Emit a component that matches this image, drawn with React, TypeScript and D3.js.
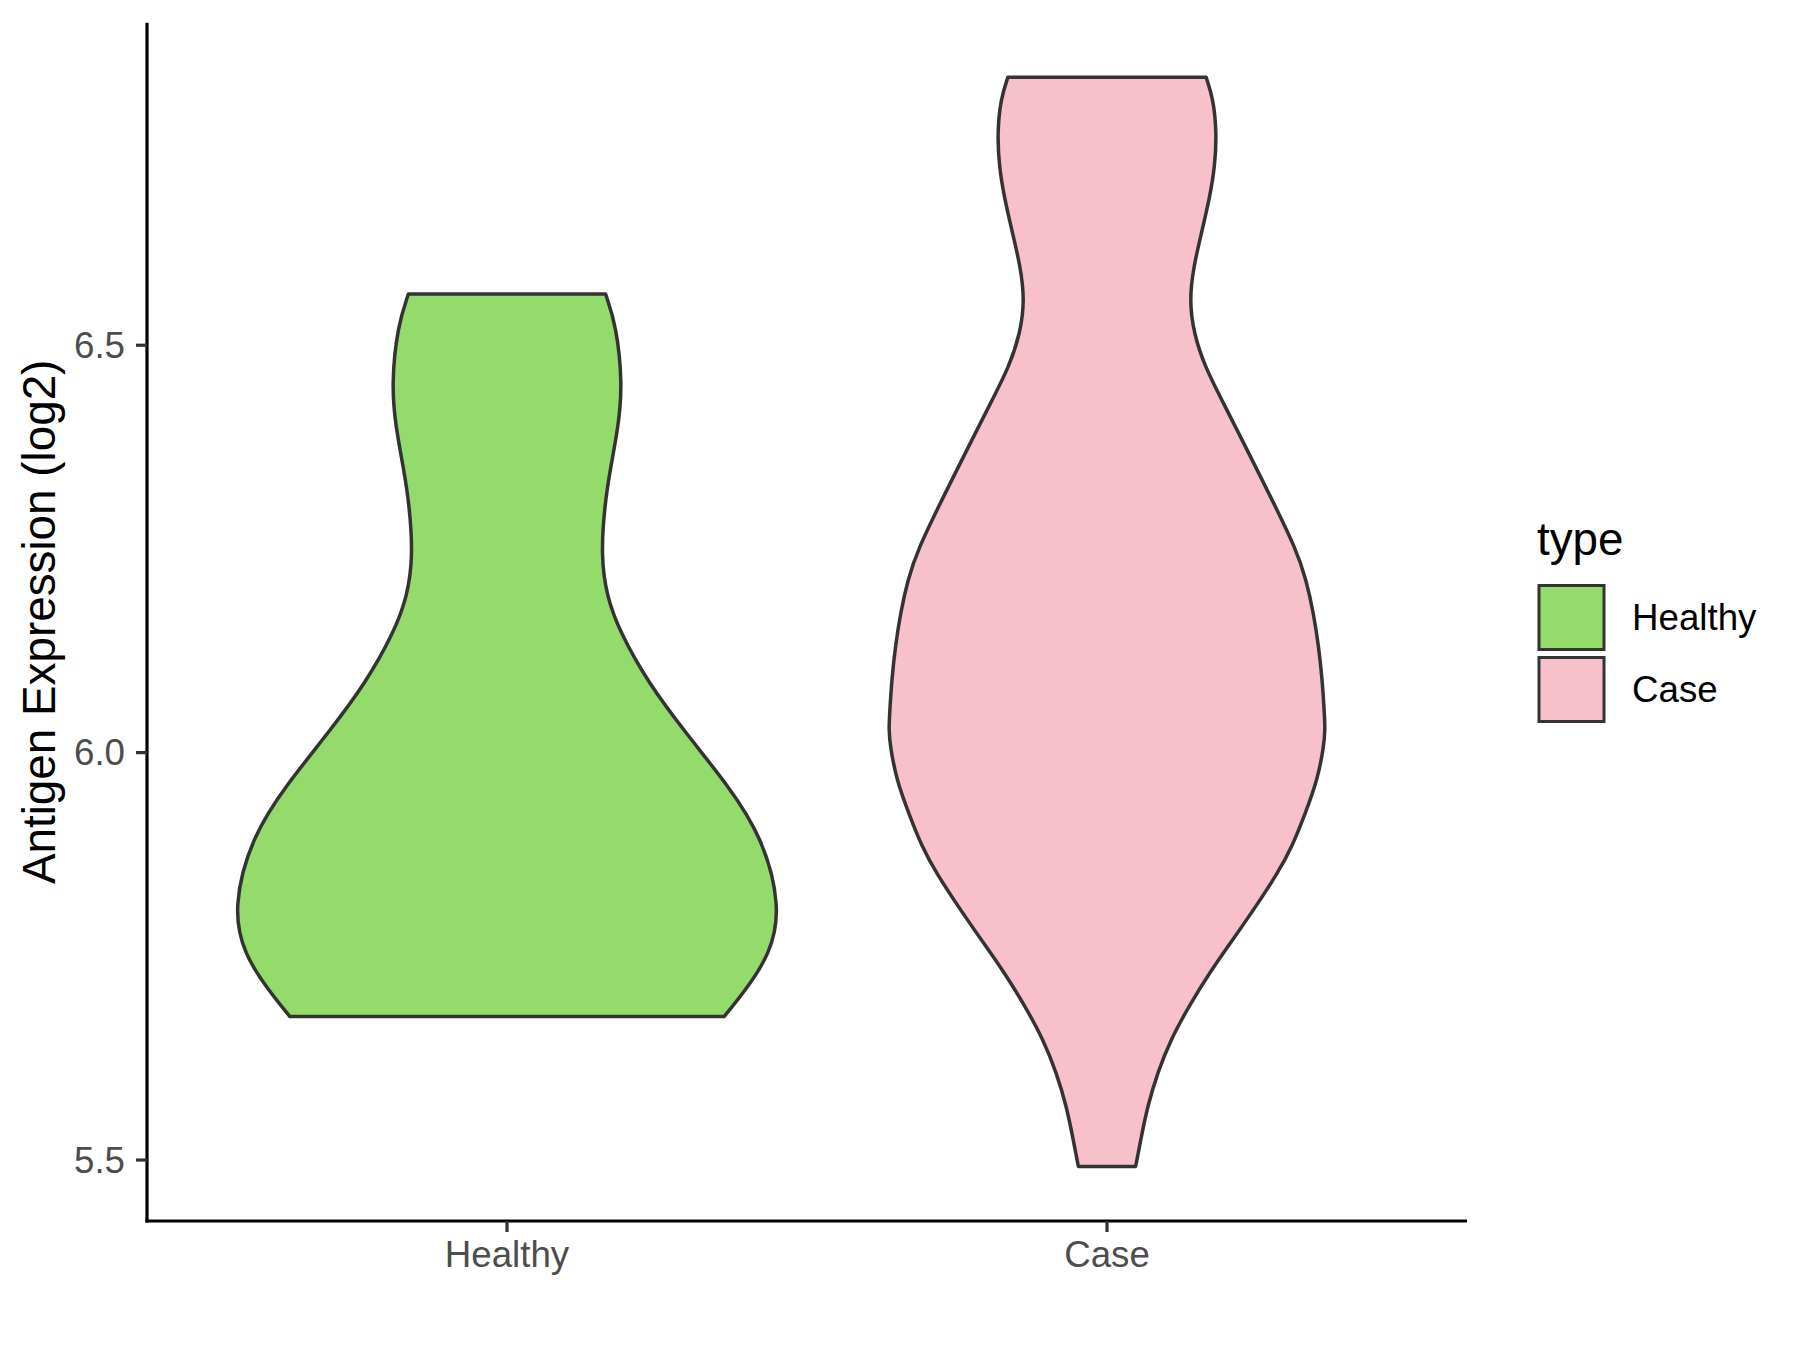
import React from "react";
import * as d3 from "d3";

const categories = ["Healthy", "Case"];
const fills = ["#93DB6B", "#F7C0CB"];
const yTicks = [5.5, 6.0, 6.5];

// violin outlines: expression value and relative half-width
const healthyValues = [6.563, 6.524, 6.452, 6.399, 6.349, 6.305, 6.242, 6.192, 6.148, 6.085, 6.023, 5.96, 5.897, 5.81, 5.753, 5.709, 5.676];
const healthyWidths = [0.365, 0.405, 0.428, 0.412, 0.383, 0.362, 0.348, 0.369, 0.418, 0.524, 0.665, 0.818, 0.945, 1.015, 0.975, 0.885, 0.804];

const caseValues = [6.829, 6.802, 6.761, 6.72, 6.679, 6.638, 6.597, 6.556, 6.515, 6.474, 6.433, 6.384, 6.31, 6.25, 6.212, 6.171, 6.13, 6.09, 6.049, 6.028, 6.008, 5.967, 5.926, 5.884, 5.852, 5.811, 5.77, 5.729, 5.689, 5.648, 5.607, 5.566, 5.525, 5.492];
const caseWidths = [0.367, 0.394, 0.406, 0.4, 0.379, 0.35, 0.321, 0.305, 0.321, 0.362, 0.425, 0.5, 0.612, 0.7, 0.738, 0.765, 0.784, 0.797, 0.805, 0.808, 0.803, 0.78, 0.735, 0.685, 0.632, 0.551, 0.465, 0.378, 0.304, 0.236, 0.187, 0.15, 0.125, 0.106];

const W = 1800;
const H = 1350;
const panel = { left: 147, right: 1467, top: 22.7, bottom: 1221 };
const FONT = "'Liberation Sans', Arial, Helvetica, sans-serif";

export default function App() {
  const allVals = [...healthyValues, ...caseValues];
  const mn = d3.min(allVals) as number;
  const mx = d3.max(allVals) as number;
  const pad = (mx - mn) * 0.05;
  const y = d3.scaleLinear().domain([mn - pad, mx + pad]).range([panel.bottom, panel.top]);

  // discrete axis: 0.6 units of expansion on each side
  const x = d3
    .scaleLinear()
    .domain([0.4, categories.length + 0.6])
    .range([panel.left, panel.right]);
  const unit = x(2) - x(1);
  const cx = (c: string) => x(categories.indexOf(c) + 1);
  const maxHalf = 0.45 * unit;

  const series = [
    { name: "Healthy", vals: healthyValues, wid: healthyWidths, fill: fills[0] },
    { name: "Case", vals: caseValues, wid: caseWidths, fill: fills[1] },
  ];

  const paths = series.map((s) => {
    const c = cx(s.name);
    const pts: [number, number][] = s.vals.map((v, i) => [v, s.wid[i]]);
    const area = d3
      .area<[number, number]>()
      .y((d) => y(d[0]))
      .x0((d) => c - d[1] * maxHalf)
      .x1((d) => c + d[1] * maxHalf)
      .curve(d3.curveBasis);
    return { d: area(pts) as string, fill: s.fill, key: s.name };
  });

  const tickColor = "#333333";
  const labelColor = "#4D4D4D";

  return (
    <svg
      width={W}
      height={H}
      viewBox={`0 0 ${W} ${H}`}
      style={{ position: "absolute", left: 0, top: 0, background: "#fff" }}
    >
      <rect x={0} y={0} width={W} height={H} fill="#ffffff" />
      {paths.map((p) => (
        <path key={p.key} d={p.d} fill={p.fill} stroke="#333333" strokeWidth={3.5} strokeLinejoin="round" />
      ))}
      {/* axes */}
      <line x1={panel.left} x2={panel.left} y1={panel.top} y2={panel.bottom + 1.6} stroke="#000" strokeWidth={3.2} />
      <line x1={panel.left - 1.6} x2={panel.right} y1={panel.bottom} y2={panel.bottom} stroke="#000" strokeWidth={3.2} />
      {yTicks.map((t) => (
        <g key={t}>
          <line x1={panel.left - 11} x2={panel.left} y1={y(t)} y2={y(t)} stroke={tickColor} strokeWidth={3.2} />
          <text
            x={panel.left - 22}
            y={y(t)}
            textAnchor="end"
            dominantBaseline="central"
            fontFamily={FONT}
            fontSize={36.7}
            fill={labelColor}
          >
            {t.toFixed(1)}
          </text>
        </g>
      ))}
      {categories.map((c) => (
        <g key={c}>
          <line x1={cx(c)} x2={cx(c)} y1={panel.bottom} y2={panel.bottom + 11} stroke={tickColor} strokeWidth={3.2} />
          <text x={cx(c)} y={1267} textAnchor="middle" fontFamily={FONT} fontSize={36.7} fill={labelColor}>
            {c}
          </text>
        </g>
      ))}
      <text
        transform={`translate(55, ${(panel.top + panel.bottom) / 2}) rotate(-90)`}
        textAnchor="middle"
        fontFamily={FONT}
        fontSize={45.8}
        fill="#000"
      >
        Antigen Expression (log2)
      </text>
      {/* legend */}
      <text x={1537} y={555} fontFamily={FONT} fontSize={45.8} fill="#000">
        type
      </text>
      {categories.map((c, i) => (
        <g key={c}>
          <rect
            x={1539}
            y={585.5 + i * 72}
            width={65}
            height={64}
            fill={fills[i]}
            stroke="#333333"
            strokeWidth={3}
          />
          <text
            x={1632}
            y={617.5 + i * 72}
            dominantBaseline="central"
            fontFamily={FONT}
            fontSize={36.7}
            fill="#000"
          >
            {c}
          </text>
        </g>
      ))}
    </svg>
  );
}
